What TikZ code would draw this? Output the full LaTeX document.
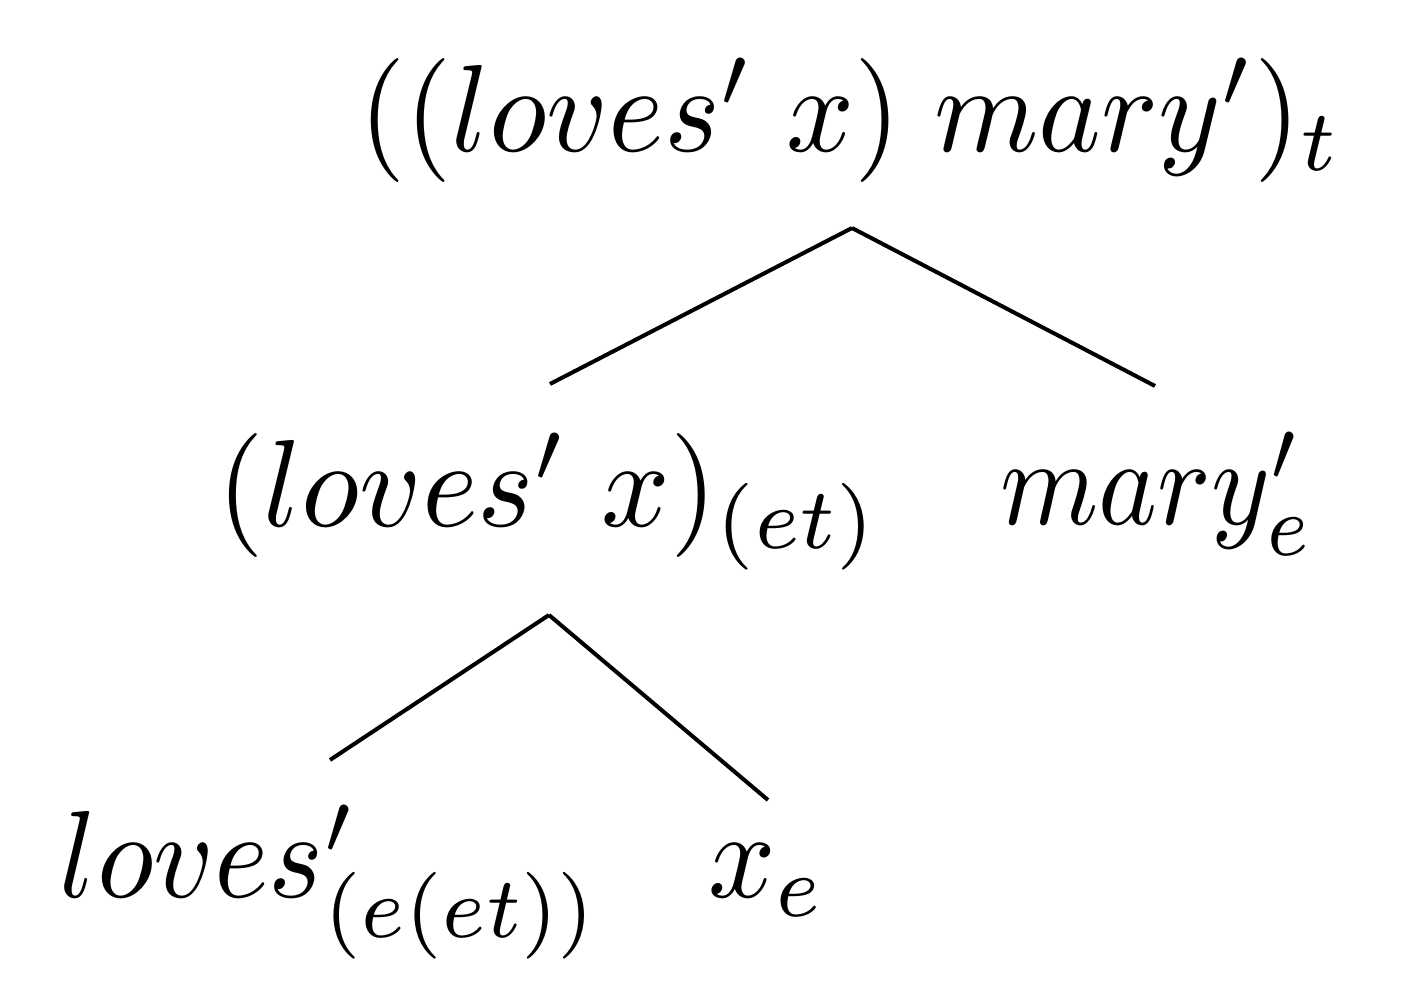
\documentclass[tikz,border=0pt]{standalone}
\newcommand{\tlbl}[2][5.9]{\scalebox{#1}[6.2]{$#2$}}
\begin{document}
\begin{tikzpicture}[x=0.5pt,y=-0.5pt,
  lbl/.style={inner sep=0pt,outer sep=0pt,anchor=base west},
  edge/.style={line width=2pt,line cap=butt}]
\useasboundingbox (0,0) rectangle (1405,1004);
\node[lbl] (root) at (359,152) {\tlbl[5.95]{((loves'\;x)\;mary')_t}};
\node[lbl] (vp) at (217,526.5) {\tlbl[6.0]{(loves'\;x)_{(et)}}};
\node[lbl] (mary) at (1000,525) {\tlbl[5.6]{mary'_e}};
\node[lbl] (loves) at (60,898) {\tlbl[5.85]{loves'_{(e(et))}}};
\node[lbl] (x) at (708,898) {\tlbl{x_e}};
\coordinate (r1) at (852,228);
\coordinate (v1) at (550,384);
\coordinate (m1) at (1155,386);
\coordinate (v2) at (549,615);
\coordinate (l1) at (330,760);
\coordinate (x1) at (768,800);
\draw[edge] (v1) -- (r1);
\draw[edge] (r1) -- (m1);
\draw[edge] (l1) -- (v2);
\draw[edge] (v2) -- (x1);
\end{tikzpicture}
\end{document}
